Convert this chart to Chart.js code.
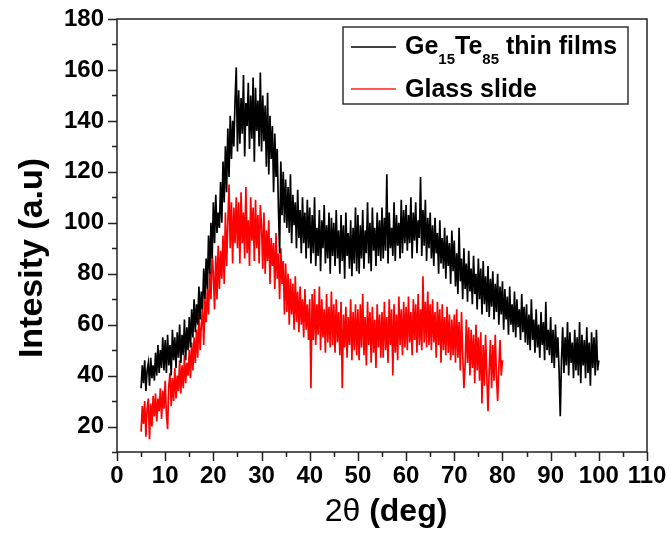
<!DOCTYPE html>
<html>
<head>
<meta charset="utf-8">
<script src="https://cdn.jsdelivr.net/npm/chart.js@4.4.1/dist/chart.umd.min.js"></script>
<style>
  html, body { margin: 0; padding: 0; background: #fff; }
  #wrap { width: 670px; height: 533px; }
</style>
</head>
<body>
<div id="wrap"><canvas id="xrdChart" width="670" height="533"></canvas></div>
<script>
// --- data (2theta grid: start + i * step) ---
const filmStart = 5, filmStep = 0.25;
const filmValues = [
  35,44,37,46,34,42,45,36,47,39,44,38,49,40,52,41,50,43,55,42,
  54,41,56,44,52,40,58,46,55,43,57,47,60,45,56,48,62,46,59,50,
  63,51,66,55,70,57,68,60,75,62,73,66,82,70,86,74,95,80,100,86,
  108,92,111,96,104,98,116,100,124,108,130,112,137,118,142,125,140,130,148,161,
  128,152,131,149,135,158,126,147,138,155,129,150,133,157,124,153,136,148,130,159,
  128,150,132,146,122,151,119,142,125,138,112,135,118,129,106,88,124,103,120,100,
  117,98,114,96,119,92,111,99,108,90,113,94,105,88,110,92,104,86,109,90,
  106,84,103,88,110,83,98,87,105,81,101,90,107,84,99,86,104,80,102,87,
  100,83,105,86,97,80,103,85,99,78,104,87,96,82,101,79,98,84,106,81,
  103,80,99,86,105,82,97,88,108,84,100,81,106,89,98,83,104,87,101,85,
  106,86,102,89,119,84,104,90,98,87,108,85,103,91,100,86,109,88,105,92,
  107,89,103,92,110,86,104,93,108,88,101,94,118,87,105,91,109,85,102,90,
  104,86,99,83,102,88,96,80,101,84,94,82,98,78,95,83,92,76,97,81,
  93,75,88,72,98,77,86,70,90,74,84,69,89,73,82,68,87,72,80,66,
  86,70,82,64,85,68,79,65,83,63,78,67,81,62,76,65,80,60,75,64,
  77,58,74,62,71,56,75,60,68,57,73,55,70,59,66,54,72,57,67,53,
  68,52,64,50,70,54,62,49,66,51,60,47,65,52,61,46,69,50,58,48,
  63,45,58,43,60,47,55,42,24,46,59,41,55,44,61,40,57,45,53,39,
  58,42,55,40,61,37,56,44,54,39,59,41,53,36,57,43,55,40,58,42,
  46
];

const glassStart = 5, glassStep = 0.25;
const glassValues = [
  18,28,21,30,16,27,31,15,29,20,32,24,33,22,31,26,35,23,34,27,
  38,25,19,36,41,28,39,30,43,31,40,34,46,33,44,35,48,37,45,40,
  50,39,53,42,55,45,58,47,64,50,60,66,52,70,61,74,64,82,70,88,
  80,66,87,70,91,74,89,78,95,76,104,83,100,115,90,108,84,106,92,110,
  90,108,84,112,92,104,86,114,88,101,83,110,93,106,85,109,90,103,84,107,
  99,82,104,80,97,85,101,76,94,83,92,74,96,78,88,70,90,76,85,64,
  84,65,80,60,78,64,76,58,79,61,73,57,75,60,70,55,74,58,68,54,
  70,35,72,54,74,52,68,56,75,50,70,55,66,49,72,53,67,51,73,52,
  68,49,70,53,65,48,69,35,64,51,67,47,63,52,70,46,65,50,68,48,
  66,46,68,51,72,48,63,44,69,52,65,45,67,49,62,43,68,51,64,47,
  65,47,69,50,63,45,70,52,66,40,68,49,64,46,71,52,66,48,69,51,
  67,50,71,53,65,48,70,54,68,49,72,52,66,50,79,53,69,51,73,52,
  68,50,70,53,65,47,69,52,66,45,68,50,63,48,67,49,64,46,62,48,
  64,45,66,47,61,42,65,48,35,44,62,45,59,40,58,43,56,37,60,42,
  55,38,57,29,52,36,56,40,26,42,54,35,52,38,56,40,30,43,54,40,
  46
];

const xMin = 0, xMax = 110, xStep = 5;
const yMin = 10, yMax = 180, yStep = 10;

const FONT = '"Liberation Sans", Arial, sans-serif';

function toPoints(start, step, values) {
    return values.map((v, i) => ({ x: start + i * step, y: v }));
}

// frame, outward ticks, axis titles and legend drawn on top of the chart
const framePlugin = {
    id: 'frame',
    afterDraw(chart) {
        const c = chart.ctx;
        const a = chart.chartArea;
        const xs = chart.scales.x, ys = chart.scales.y;
        c.save();
        c.strokeStyle = '#222';
        c.lineWidth = 1.5;
        c.strokeRect(a.left, a.top, a.right - a.left, a.bottom - a.top);

        c.beginPath();
        xs.ticks.forEach(t => {
            const px = Math.round(xs.getPixelForValue(t.value)) + 0.5;
            const len = t.value % 10 === 0 ? 9 : 5;
            c.moveTo(px, a.bottom);
            c.lineTo(px, a.bottom + len);
        });
        ys.ticks.forEach(t => {
            const py = Math.round(ys.getPixelForValue(t.value)) + 0.5;
            const len = t.value % 20 === 0 ? 9 : 5;
            c.moveTo(a.left, py);
            c.lineTo(a.left - len, py);
        });
        c.stroke();

        // axis titles
        c.fillStyle = '#000';
        c.textBaseline = 'middle';
        c.textAlign = 'center';
        c.save();
        c.translate(33, 258);
        c.rotate(-Math.PI / 2);
        c.font = 'bold 34px ' + FONT;
        c.fillText('Intesity (a.u)', 0, 0);
        c.restore();

        c.textAlign = 'left';
        c.font = '32px ' + FONT;
        const w1 = c.measureText('2θ').width;
        c.font = 'bold 32px ' + FONT;
        const w2 = c.measureText(' (deg)').width;
        let tx = 386 - (w1 + w2) / 2;
        c.font = '32px ' + FONT;
        c.fillText('2θ', tx, 512);
        c.font = 'bold 32px ' + FONT;
        c.fillText(' (deg)', tx + w1, 512);

        // legend box
        const bx = 343, by = 27, bw = 285, bh = 77;
        c.fillStyle = '#fff';
        c.fillRect(bx, by, bw, bh);
        c.strokeStyle = '#333';
        c.lineWidth = 1.5;
        c.strokeRect(bx, by, bw, bh);

        c.strokeStyle = '#000';
        c.beginPath(); c.moveTo(351, 47); c.lineTo(396, 47); c.stroke();
        c.strokeStyle = '#ff2020';
        c.beginPath(); c.moveTo(351, 89); c.lineTo(396, 89); c.stroke();

        const big = 'bold 25px ' + FONT, small = 'bold 15px ' + FONT;
        c.fillStyle = '#000';
        c.textBaseline = 'alphabetic';
        let x = 405;
        const parts = [['Ge', big, 0], ['15', small, 10], ['Te', big, 0], ['85', small, 10], [' thin films', big, 0]];
        parts.forEach(p => {
            c.font = p[1];
            c.fillText(p[0], x, 54 + p[2]);
            x += c.measureText(p[0]).width;
        });
        c.font = big;
        c.fillText('Glass slide', 405, 97);
        c.restore();
    }
};

const ctx = document.getElementById('xrdChart').getContext('2d');
const xrdChart = new Chart(ctx, {
    type: 'line',
    data: {
        datasets: [
            {
                label: 'Ge15Te85 thin films',
                data: toPoints(filmStart, filmStep, filmValues),
                borderColor: '#000000',
                borderWidth: 1.7,
                pointRadius: 0,
                tension: 0
            },
            {
                label: 'Glass slide',
                data: toPoints(glassStart, glassStep, glassValues),
                borderColor: '#ff0000',
                borderWidth: 1.7,
                pointRadius: 0,
                tension: 0
            }
        ]
    },
    options: {
        responsive: false,
        animation: false,
        devicePixelRatio: 1,
        layout: { padding: { left: 0, top: 19, right: 23, bottom: 0 } },
        plugins: {
            legend: { display: false }, // drawn by framePlugin
            tooltip: { enabled: false }
        },
        scales: {
            x: {
                type: 'linear',
                min: xMin,
                max: xMax,
                afterFit: s => { s.height = 81; s.paddingLeft = 0; s.paddingRight = 0; },
                grid: { display: false, drawTicks: false },
                border: { display: false },
                ticks: {
                    stepSize: xStep,
                    padding: 10,
                    autoSkip: false,
                    maxRotation: 0,
                    color: '#000',
                    font: { family: FONT, size: 24, weight: 'bold' },
                    callback: v => (v % 10 === 0 ? v : '')
                }
            },
            y: {
                min: yMin,
                max: yMax,
                afterFit: s => { s.width = 117; s.paddingTop = 0; s.paddingBottom = 0; },
                grid: { display: false, drawTicks: false },
                border: { display: false },
                ticks: {
                    stepSize: yStep,
                    padding: 13,
                    autoSkip: false,
                    color: '#000',
                    font: { family: FONT, size: 24, weight: 'bold' },
                    callback: v => (v % 20 === 0 ? v : '')
                }
            }
        }
    },
    plugins: [framePlugin]
});
</script>
</body>
</html>
